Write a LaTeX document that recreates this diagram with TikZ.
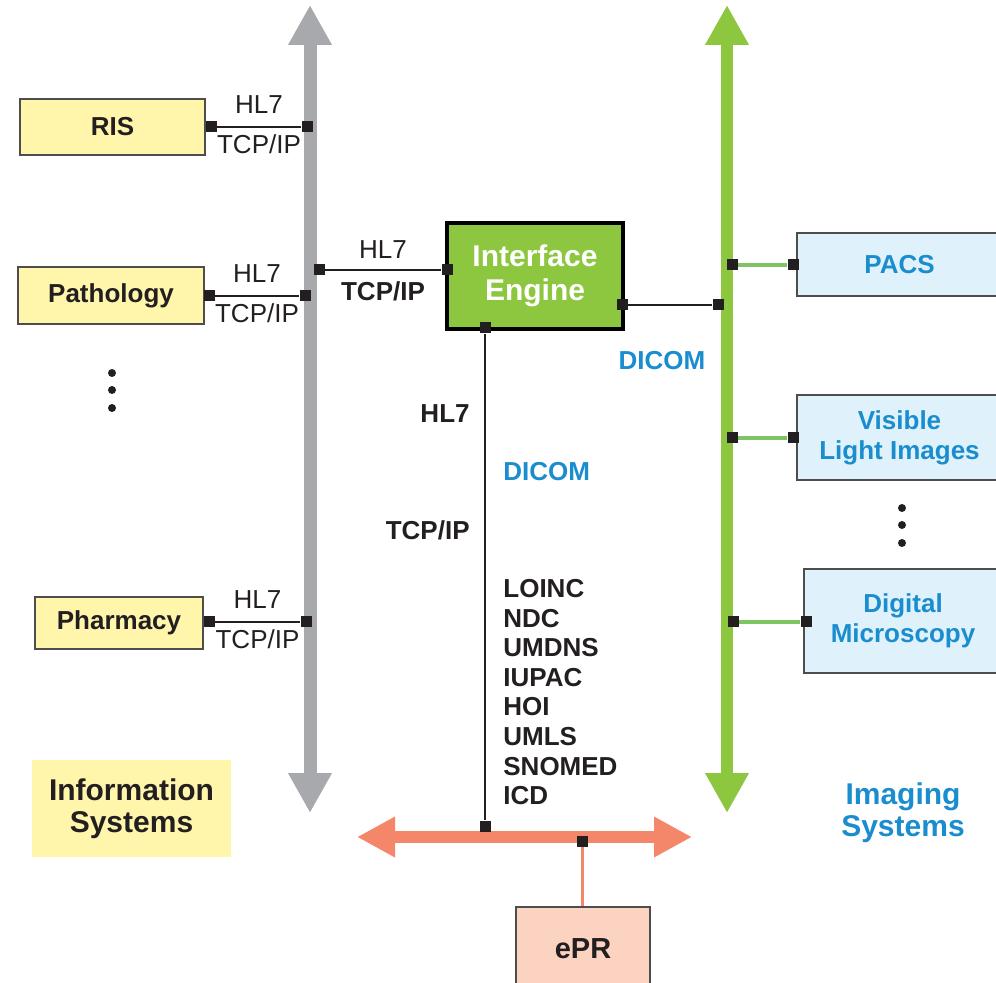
\documentclass[tikz,border=0pt]{standalone}
\usepackage{fontspec}
\setmainfont{Liberation Sans}
\usetikzlibrary{arrows.meta,positioning}

\definecolor{textdark}{HTML}{231F20}
\definecolor{boxline}{HTML}{4D4D4D}
\definecolor{sysyellow}{HTML}{FFF6AC}
\definecolor{busgray}{HTML}{A7A9AC}
\definecolor{busgreen}{HTML}{8DC63F}
\definecolor{linkgreen}{HTML}{7DC462}
\definecolor{imgblue}{HTML}{1A8DCF}
\definecolor{imgfill}{HTML}{DFF1FB}
\definecolor{eprsalmon}{HTML}{F4866A}
\definecolor{eprfill}{HTML}{FBD3C0}

\tikzset{
  sysbox/.style={draw=boxline,line width=0.6pt,fill=sysyellow,text=textdark,inner sep=0pt,align=center,font=\fontsize{13}{15}\selectfont\bfseries},
  imgbox/.style={draw=boxline,line width=0.6pt,fill=imgfill,text=imgblue,inner sep=0pt,align=center,font=\fontsize{13}{15}\selectfont\bfseries},
  title/.style={inner sep=0pt,align=center,font=\fontsize{15}{16}\selectfont\bfseries},
  port/.style={rectangle,fill=textdark,minimum size=5.5pt,inner sep=0pt},
  link/.style={textdark,line width=0.75pt},
  glink/.style={linkgreen,line width=1.75pt},
  lbl/.style={text=textdark,font=\fontsize{13}{15}\selectfont},
  blbl/.style={text=textdark,font=\fontsize{13}{15}\selectfont\bfseries},
  bluelbl/.style={text=imgblue,font=\fontsize{13}{15}\selectfont\bfseries},
  bus/.style={line width=#1pt},
  bigtip/.style={{Triangle[width=20.5pt,length=20pt]}-{Triangle[width=20.5pt,length=20pt]}}
}

\begin{document}
\begin{tikzpicture}[x=0.5pt,y=-0.5pt]
  \useasboundingbox (0,0) rectangle (996,983);

  \coordinate (gtop) at (310,5);
  \coordinate (gbot) at (310,813);
  \coordinate (ntop) at (727,5);
  \coordinate (nbot) at (727,813);
  \coordinate (sleft) at (357,837);
  \coordinate (sright) at (692,837);
  \draw[busgray,bus=6.5,bigtip] (gtop) -- (gbot);
  \draw[busgreen,bus=6,bigtip] (ntop) -- (nbot);
  \draw[eprsalmon,bus=6.25,{Triangle[width=19pt,length=19pt]}-{Triangle[width=19pt,length=19pt]}] (sleft) -- (sright);

  \node[sysbox,minimum width=92.5pt,minimum height=28pt] (ris) at (112.5,127) {RIS};
  \node[sysbox,minimum width=93pt,minimum height=28.5pt] (path) at (111,295.5) {Pathology};
  \node[sysbox,minimum width=84pt,minimum height=26pt] (pharm) at (119,623) {Pharmacy};
  \node[title,fill=sysyellow,text=textdark,minimum width=99.5pt,minimum height=48.5pt] (infosys) at (131.5,808.5) {Information\\Systems};

  \node[draw=black,line width=2pt,fill=busgreen,text=white,inner sep=0pt,align=center,minimum width=88pt,minimum height=53pt,font=\fontsize{15}{17}\selectfont\bfseries] (engine) at (535,276) {Interface\\Engine};

  \node[imgbox,minimum width=102.5pt,minimum height=31.5pt] (pacs) at (899.5,264.5) {PACS};
  \node[imgbox,minimum width=102.5pt,minimum height=42.5pt] (visible) at (899.5,437.5) {Visible\\Light Images};
  \node[imgbox,minimum width=99pt,minimum height=52pt] (micro) at (903,621) {Digital\\Microscopy};
  \node[title,text=imgblue] (imgsys) at (903,813) {Imaging\\Systems};

  \node[draw=boxline,line width=0.6pt,fill=eprfill,text=textdark,inner sep=0pt,minimum width=67pt,minimum height=41.5pt,font=\fontsize{14.5}{16}\selectfont\bfseries] (epr) at (583,948.5) {ePR};

  \node[port] (risA) at (211,127) {};
  \node[port] (risB) at (307,127) {};
  \node[port] (pathA) at (209,296) {};
  \node[port] (pathB) at (305,296) {};
  \node[port] (pharmA) at (209,622) {};
  \node[port] (pharmB) at (306,622) {};
  \node[port] (engA) at (319,270) {};
  \node[port] (engB) at (447,270) {};
  \node[port] (engC) at (622,305) {};
  \node[port] (engD) at (718,305) {};
  \node[port] (engE) at (485,328) {};
  \node[port] (eprA) at (485,826) {};
  \node[port] (eprB) at (582,841) {};
  \node[port] (pacsA) at (732,265) {};
  \node[port] (pacsB) at (793,265) {};
  \node[port] (visA) at (732,438) {};
  \node[port] (visB) at (793,438) {};
  \node[port] (microA) at (733,622) {};
  \node[port] (microB) at (806,622) {};

  \draw[link] (risA) -- node[lbl,above=3pt] (risHL) {HL7} node[lbl,below] (risTCP) {TCP/IP} (risB);
  \draw[link] (pathA) -- node[lbl,above=3pt] (pathHL) {HL7} node[lbl,below] (pathTCP) {TCP/IP} (pathB);
  \draw[link] (pharmA) -- node[lbl,above=3pt] (pharmHL) {HL7} node[lbl,below] (pharmTCP) {TCP/IP} (pharmB);
  \draw[link] (engA) -- node[lbl,above=2pt] (engHL) {HL7} node[blbl,below=2pt] (engTCP) {TCP/IP} (engB);
  \draw[link] (engC) -- (engD);
  \draw[link] (engE) -- (eprA);
  \draw[eprsalmon,line width=1.5pt] (eprB) -- (eprB |- epr.north);
  \draw[glink] (pacsA) -- (pacsB);
  \draw[glink] (visA) -- (visB);
  \draw[glink] (microA) -- (microB);

  \node[bluelbl] (dicomA) at (662,361) {DICOM};
  \node[blbl,anchor=east,inner sep=0pt] (midHL) at (470,414) {HL7};
  \node[bluelbl,anchor=west,inner sep=0pt] (dicomB) at (503,472) {DICOM};
  \node[blbl,anchor=east,inner sep=0pt] (midTCP) at (470,530) {TCP/IP};
  \node[blbl,anchor=north west,inner sep=0pt,align=left,font=\fontsize{13}{14.8}\selectfont\bfseries] (codes) at (503,579) {LOINC\\NDC\\UMDNS\\IUPAC\\HOI\\UMLS\\SNOMED\\ICD};

  \fill[textdark] (112,373) circle (2pt) (112,390) circle (2pt) (112,408) circle (2pt);
  \fill[textdark] (902,508) circle (2pt) (902,525) circle (2pt) (902,543) circle (2pt);
\end{tikzpicture}
\end{document}
